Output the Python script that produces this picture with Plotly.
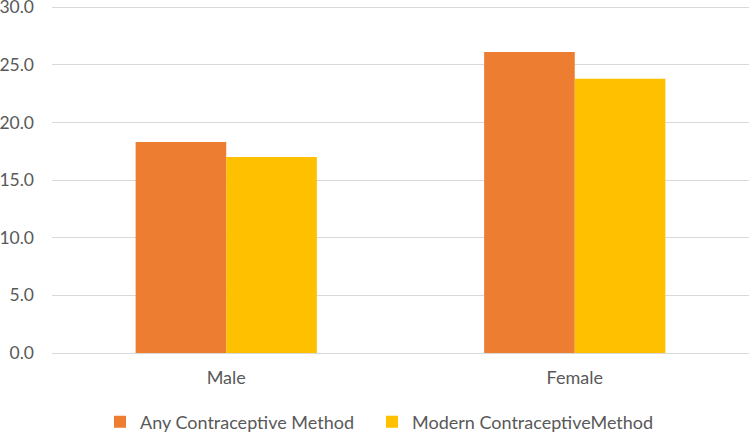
import plotly.graph_objects as go

categories = ["Male", "Female"]
any_method = [18.3, 26.1]
modern_method = [17.0, 23.8]
series_names = ["Any Contraceptive Method", "Modern ContraceptiveMethod"]
y_ticks = [0, 5, 10, 15, 20, 25, 30]
y_tick_labels = ["0.0", "5.0", "10.0", "15.0", "20.0", "25.0", "30.0"]

fig = go.Figure()
fig.add_trace(go.Bar(x=categories, y=any_method, name=series_names[0],
                     marker=dict(color="#ED7D31", line=dict(width=0)), legend="legend"))
fig.add_trace(go.Bar(x=categories, y=modern_method, name=series_names[1],
                     marker=dict(color="#FFC000", line=dict(width=0)), legend="legend2"))

font_family = "Lato, 'Open Sans', sans-serif"
PL, PW = 52, 697
legend_common = dict(orientation="h", xanchor="left", yref="container",
                     y=1 - 422 / 432, yanchor="middle", itemwidth=30,
                     font=dict(size=18, color="#595959"))
fig.update_layout(
    width=750, height=432,
    margin=dict(l=PL, r=1, t=6, b=79),
    paper_bgcolor="white", plot_bgcolor="white",
    barmode="group", bargap=0.48, bargroupgap=0,
    font=dict(family=font_family, size=18, color="#595959"),
    xaxis=dict(showgrid=False, showline=False, ticks="", zeroline=False,
               automargin=False, ticklabelstandoff=12,
               tickfont=dict(size=18, color="#595959")),
    yaxis=dict(range=[0, 30.1], tickvals=y_ticks, ticktext=y_tick_labels,
               showgrid=True, gridcolor="#D9D9D9", gridwidth=1.3,
               zeroline=True, zerolinecolor="#D9D9D9", zerolinewidth=1.3,
               showline=False, ticks="", ticklabelstandoff=17, automargin=False,
               ticklabeloverflow="allow",
               tickfont=dict(size=17.5, color="#595959")),
    legend=dict(x=(100 - PL) / PW, **legend_common),
    legend2=dict(x=(372 - PL) / PW, **legend_common),
    showlegend=True,
)

fig.write_html("out.html", config={"displayModeBar": False},
               post_script="document.body.style.margin='0';")
